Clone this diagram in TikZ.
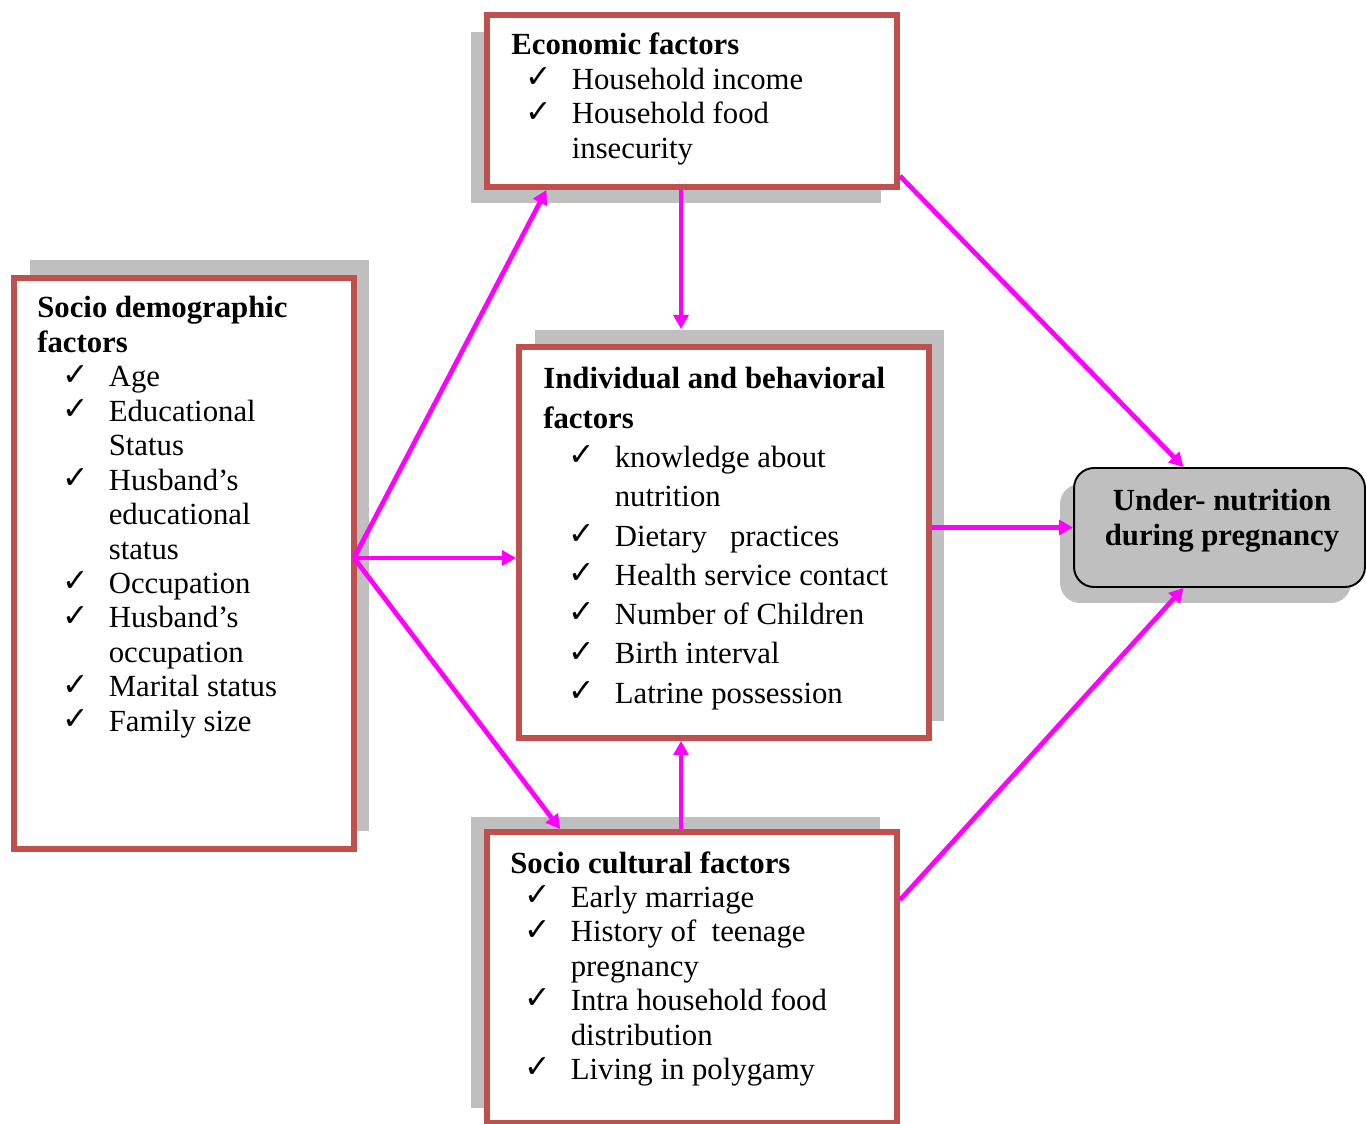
\documentclass[tikz,border=0pt]{standalone}
\usepackage{fontspec}
\setmainfont{Liberation Serif}
\newfontfamily\symfont{DejaVu Sans}
\usetikzlibrary{arrows.meta,calc,shadows}
\definecolor{boxred}{HTML}{C0504D}
\definecolor{shadegray}{HTML}{BFBFBF}
\definecolor{pinkline}{RGB}{255,0,255}
\newcommand{\tick}{\raisebox{1pt}{\symfont\fontsize{18}{18}\selectfont ✓}}
\newcommand{\ck}{&\tick&}
\newcommand{\nx}{&&}
\newcommand{\hd}[1]{\multicolumn{3}{@{}l@{}}{\textbf{#1}}}
\newcommand{\itemlist}[2]{\begin{tabular}[t]{@{}p{#1}@{}p{0.93cm}@{}l@{}}#2\end{tabular}}

\begin{document}
\begin{tikzpicture}[x=0.02cm,y=-0.02cm,
    box/.style={rectangle,draw=boxred,line width=3.4pt,fill=white,inner sep=0pt},
    back/.style 2 args={general shadow={fill=shadegray,shadow xshift=#1,shadow yshift=#2}},
    list/.style={anchor=base west,inner sep=0pt,font=\fontsize{17.5}{19.6}\selectfont},
    arrow/.style={-{Triangle[length=8pt,width=8.5pt]},draw=pinkline,line width=2.7pt}
  ]
    \useasboundingbox (0,0) rectangle (1366,1124);
    % boxes
    \node[box,minimum width=8.2cm,minimum height=3.44cm,back={-0.32cm}{-0.33cm}] (econ) at (692,101) {};
    \node[box,minimum width=6.8cm,minimum height=11.42cm,back={0.31cm}{0.36cm}] (socdem) at (184,563.5) {};
    \node[box,minimum width=8.2cm,minimum height=7.82cm,back={0.31cm}{0.34cm}] (indiv) at (724,542.5) {};
    \node[box,minimum width=8.2cm,minimum height=5.82cm,back={-0.33cm}{0.3cm}] (soccult) at (692,977.5) {};
    \node[draw=black,line width=1.1pt,fill=shadegray,rounded corners=0.4cm,
      minimum width=5.82cm,minimum height=2.38cm,back={-0.28cm}{-0.32cm}] (under) at (1219.5,527.5) {};

    % texts
    \node[list] (econtxt) at (511,55) {\itemlist{0.28cm}{%
      \hd{Economic factors}\\
      \ck Household income\\
      \ck Household food\\
      \nx insecurity}};
    \node[list] (socdemtxt) at (37,318) {\itemlist{0.5cm}{%
      \hd{Socio demographic}\\
      \hd{factors}\\
      \ck Age\\
      \ck Educational\\
      \nx Status\\
      \ck Husband's\\
      \nx educational\\
      \nx status\\
      \ck Occupation\\
      \ck Husband's\\
      \nx occupation\\
      \ck Marital status\\
      \ck Family size}};
    \node[list,font=\fontsize{17.5}{22.36}\selectfont] (indivtxt) at (543,389) {\itemlist{0.5cm}{%
      \hd{Individual and behavioral}\\
      \hd{factors}\\
      \ck knowledge about\\
      \nx nutrition\\
      \ck Dietary~~~practices\\
      \ck Health service contact\\
      \ck Number of Children\\
      \ck Birth interval\\
      \ck Latrine possession}};
    \node[list] (soccultxt) at (510,873) {\itemlist{0.28cm}{%
      \hd{Socio cultural factors}\\
      \ck Early marriage\\
      \ck History of~~teenage\\
      \nx pregnancy\\
      \ck Intra household food\\
      \nx distribution\\
      \ck Living in polygamy}};
    \node[list,anchor=base] (undertxt) at (1222,511) {\begin{tabular}[t]{@{}c@{}}
      \textbf{Under- nutrition}\\
      \textbf{during pregnancy}\end{tabular}};

    % arrows
    \coordinate (hub) at (354,558);
    \coordinate (indtop) at (681,329);
    \draw[arrow] (hub) -- ($(econ.south west)!0.15!(econ.south east)$);
    \draw[arrow] (hub) -- (hub -| indiv.west);
    \draw[arrow] (hub) -- ($(soccult.north west)!0.183!(soccult.north east)$);
    \draw[arrow] (econ.south -| indtop) -- (indtop);
    \draw[arrow] (soccult.north -| indtop) -- (indiv.south -| indtop);
    \draw[arrow] ($(econ.south east)+(0,-14)$) -- ($(under.north)+(-36,0)$);
    \draw[arrow] (indiv.east |- under.west) -- (under.west);
    \draw[arrow] ($(soccult.north east)+(0,71)$) -- ($(under.south)+(-36,0)$);
  \end{tikzpicture}
\end{document}
